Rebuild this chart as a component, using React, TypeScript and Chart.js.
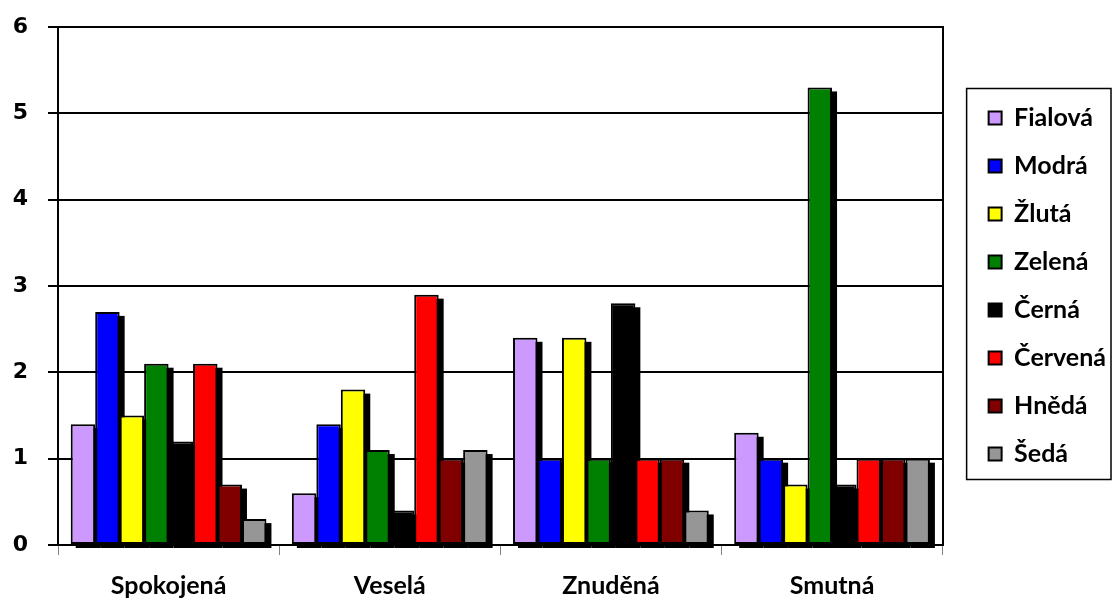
import { useEffect, useRef } from 'react';
import { Chart, registerables } from 'chart.js';

Chart.register(...registerables);

const categories = ['Spokojená', 'Veselá', 'Znuděná', 'Smutná'];
const seriesNames = ['Fialová', 'Modrá', 'Žlutá', 'Zelená', 'Černá', 'Červená', 'Hnědá', 'Šedá'];
const fialova = [1.4, 0.6, 2.4, 1.3];
const modra = [2.7, 1.4, 1.0, 1.0];
const zluta = [1.5, 1.8, 2.4, 0.7];
const zelena = [2.1, 1.1, 1.0, 5.3];
const cerna = [1.2, 0.4, 2.8, 0.7];
const cervena = [2.1, 2.9, 1.0, 1.0];
const hneda = [0.7, 1.0, 1.0, 1.0];
const seda = [0.3, 1.1, 0.4, 1.0];
const seriesValues = [fialova, modra, zluta, zelena, cerna, cervena, hneda, seda];
const seriesColors = ['#CC99FF', '#0000FF', '#FFFF00', '#008000', '#000000', '#FF0000', '#800000', '#969696'];
const yMin = 0;
const yMax = 6;
const yStep = 1;

const SHADOW_DX = 5;
const SHADOW_DY = 4;

const shadowPlugin = {
  id: 'barShadow',
  beforeDatasetsDraw(chart: any) {
    const ctx = chart.ctx;
    ctx.save();
    ctx.fillStyle = '#000000';
    chart.data.datasets.forEach((_ds: any, i: number) => {
      const meta = chart.getDatasetMeta(i);
      meta.data.forEach((bar: any) => {
        const p = bar.getProps(['x', 'y', 'base', 'width'], true);
        ctx.fillRect(p.x - p.width / 2 + SHADOW_DX, p.y + SHADOW_DY, p.width, p.base - p.y);
      });
    });
    ctx.restore();
  },
};

const legendBoxPlugin = {
  id: 'legendBox',
  afterDraw(chart: any) {
    const lg = chart.legend;
    if (!lg || !lg.legendHitBoxes || !lg.legendHitBoxes.length) return;
    const hb = lg.legendHitBoxes;
    const first = hb[0];
    const last = hb[hb.length - 1];
    const ctx = chart.ctx;
    ctx.save();
    ctx.strokeStyle = '#000000';
    ctx.lineWidth = 1.5;
    const left = first.left - 22;
    const top = first.top - 17;
    const right = chart.width - 5;
    const bottom = last.top + last.height + 13;
    ctx.strokeRect(left, top, right - left, bottom - top);
    ctx.restore();
  },
};

export default function App() {
  const ref = useRef<HTMLCanvasElement | null>(null);
  useEffect(() => {
    if (!ref.current) return;
    const chart = new Chart(ref.current, {
      type: 'bar',
      data: {
        labels: categories,
        datasets: seriesNames.map((name, i) => ({
          label: name,
          data: seriesValues[i],
          backgroundColor: seriesColors[i],
          borderColor: '#000000',
          borderWidth: 2,
          borderSkipped: false,
          barPercentage: 1,
          categoryPercentage: 0.885,
        })),
      },
      options: {
        responsive: false,
        animation: false,
        devicePixelRatio: 1,
        layout: { padding: { top: 27, left: 0, right: 0, bottom: 0 } },
        plugins: {
          tooltip: { enabled: false },
          legend: {
            position: 'right',
            fullSize: false,
            labels: {
              boxWidth: 13,
              boxHeight: 13,
              padding: 23,
              color: '#000000',
              font: { family: 'Lato', weight: 'bold', size: 25 },
            },
          },
        },
        scales: {
          x: {
            grid: {
              drawOnChartArea: false,
              drawTicks: true,
              tickLength: 10,
              color: '#808080',
              lineWidth: 1,
            },
            border: { display: true, color: '#000000', width: 2 },
            ticks: {
              color: '#000000',
              padding: 16,
              font: { family: 'Lato', weight: 'bold', size: 25 },
            },
            afterFit: (scale: any) => {
              scale.height = 65;
            },
          },
          y: {
            min: yMin,
            max: yMax,
            ticks: {
              stepSize: yStep,
              color: '#000000',
              padding: 20,
              font: { family: 'DejaVu Sans', weight: 'bold', size: 22 },
            },
            grid: {
              color: '#000000',
              lineWidth: 2,
              tickLength: 10,
              tickColor: '#000000',
            },
            border: { display: true, color: '#000000', width: 2 },
            afterFit: (scale: any) => {
              scale.width = 58;
              scale.paddingTop = 5;
              scale.paddingBottom = 5;
            },
          },
          y2: {
            position: 'right',
            min: yMin,
            max: yMax,
            ticks: { display: false },
            grid: { display: false, drawOnChartArea: false, drawTicks: false },
            border: { display: true, color: '#000000', width: 2 },
            afterFit: (scale: any) => {
              scale.width = 23;
              scale.paddingTop = 0;
              scale.paddingBottom = 0;
            },
          },
        },
      },
      plugins: [shadowPlugin, legendBoxPlugin],
    } as any);
    return () => chart.destroy();
  }, []);
  return (
    <div style={{ position: 'absolute', left: 0, top: 0, width: 1116, height: 610, background: '#ffffff' }}>
      <canvas ref={ref} width={1116} height={610} style={{ width: 1116, height: 610 }} />
    </div>
  );
}
